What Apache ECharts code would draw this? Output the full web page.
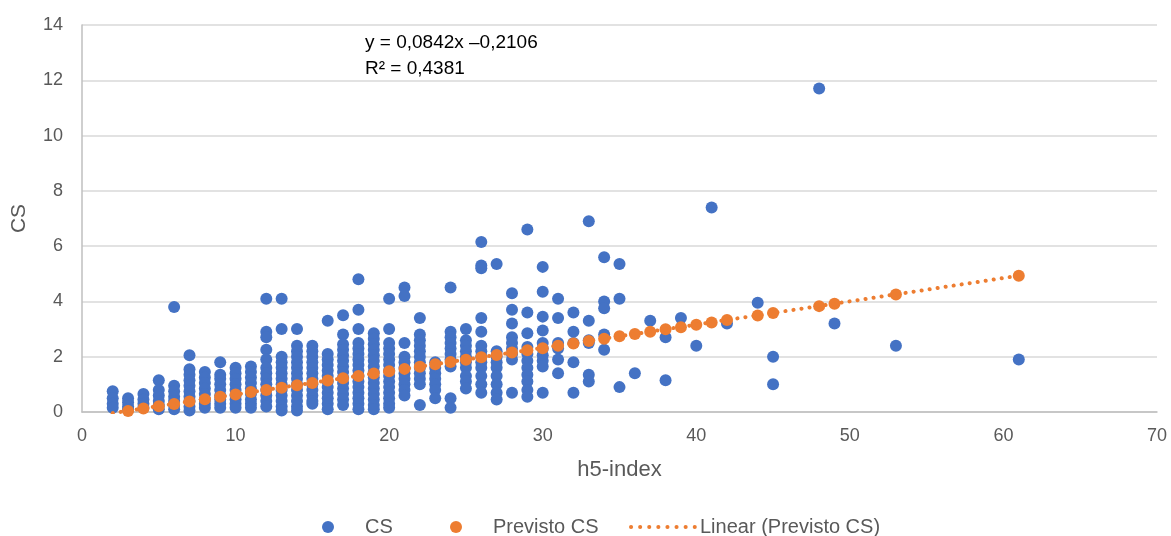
<!DOCTYPE html>
<html>
<head>
<meta charset="utf-8">
<script src="https://cdn.jsdelivr.net/npm/echarts@6/dist/echarts.min.js"></script>
<style>
  html, body { margin: 0; padding: 0; background: #fff; }
  #chart { width: 1171px; height: 536px; }
</style>
</head>
<body>
<div id="chart"></div>
<script>
// CS observado, agrupado por h5-index
var csColumns = [
    [2, [0.75, 0.5, 0.3, 0.15]],
    [3, [0.5, 0.35, 0.2, 0.1]],
    [4, [0.65, 0.45, 0.3, 0.15]],
    [5, [1.15, 0.8, 0.6, 0.4, 0.25, 0.1]],
    [6, [3.8, 0.95, 0.75, 0.55, 0.4, 0.25, 0.1]],
    [7, [2.05, 1.55, 1.35, 1.15, 0.95, 0.75, 0.55, 0.4, 0.2, 0.05]],
    [8, [1.45, 1.25, 1.05, 0.85, 0.65, 0.45, 0.3, 0.15]],
    [9, [1.8, 1.35, 1.2, 1.0, 0.8, 0.6, 0.45, 0.3, 0.15]],
    [10, [1.6, 1.4, 1.2, 1.0, 0.8, 0.6, 0.45, 0.3, 0.15]],
    [11, [1.65, 1.45, 1.25, 1.05, 0.85, 0.65, 0.45, 0.3, 0.15]],
    [12, [4.1, 2.9, 2.7, 2.25, 1.9, 1.6, 1.4, 1.2, 1.0, 0.8, 0.6, 0.4, 0.2]],
    [13, [4.1, 3.0, 2.0, 1.8, 1.6, 1.4, 1.2, 1.0, 0.8, 0.6, 0.4, 0.2, 0.05]],
    [14, [3.0, 2.4, 2.2, 2.0, 1.8, 1.6, 1.4, 1.2, 1.0, 0.8, 0.6, 0.4, 0.2, 0.05]],
    [15, [2.4, 2.2, 2.0, 1.8, 1.6, 1.4, 1.2, 1.0, 0.8, 0.6, 0.4, 0.3]],
    [16, [3.3, 2.1, 1.9, 1.7, 1.5, 1.3, 1.1, 0.9, 0.7, 0.5, 0.3, 0.1]],
    [17, [3.5, 2.8, 2.45, 2.25, 2.05, 1.85, 1.65, 1.45, 1.25, 1.05, 0.85, 0.65, 0.45, 0.25]],
    [18, [4.8, 3.7, 3.0, 2.5, 2.3, 2.1, 1.9, 1.7, 1.5, 1.3, 1.1, 0.9, 0.7, 0.5, 0.3, 0.1]],
    [19, [2.85, 2.65, 2.45, 2.25, 2.05, 1.85, 1.65, 1.45, 1.25, 1.05, 0.85, 0.65, 0.45, 0.25, 0.1]],
    [20, [4.1, 3.0, 2.5, 2.3, 2.1, 1.9, 1.7, 1.5, 1.3, 1.1, 0.9, 0.7, 0.5, 0.3, 0.15]],
    [21, [4.5, 4.2, 2.5, 2.0, 1.8, 1.6, 1.4, 1.2, 1.0, 0.8, 0.6]],
    [22, [3.4, 2.8, 2.6, 2.4, 2.2, 2.0, 1.8, 1.6, 1.4, 1.2, 1.0, 0.25]],
    [23, [1.8, 1.6, 1.4, 1.2, 1.0, 0.8, 0.5]],
    [24, [4.5, 2.9, 2.7, 2.5, 2.3, 2.1, 1.9, 1.65, 0.5, 0.15]],
    [25, [3.0, 2.6, 2.4, 2.2, 2.0, 1.8, 1.6, 1.3, 1.1, 0.85]],
    [26, [6.15, 5.3, 5.2, 3.4, 2.9, 2.4, 2.2, 2.0, 1.8, 1.6, 1.3, 1.0, 0.7]],
    [27, [5.35, 2.2, 2.0, 1.8, 1.6, 1.3, 1.0, 0.7, 0.45]],
    [28, [4.3, 3.7, 3.2, 2.7, 2.5, 2.3, 2.1, 1.9, 0.7]],
    [29, [6.6, 3.6, 2.85, 2.35, 2.1, 1.85, 1.6, 1.35, 1.1, 0.8, 0.55]],
    [30, [5.25, 4.35, 3.45, 2.95, 2.5, 2.3, 2.05, 1.85, 1.65, 0.7]],
    [31, [4.1, 3.4, 2.5, 2.3, 1.9, 1.4]],
    [32, [3.6, 2.9, 2.5, 1.8, 0.7]],
    [33, [6.9, 3.3, 2.6, 2.5, 1.35, 1.1]],
    [34, [5.6, 4.0, 3.75, 2.8, 2.25]],
    [35, [5.35, 4.1, 0.9]],
    [36, [1.4]],
    [37, [3.3]],
    [38, [2.7, 1.15]],
    [39, [3.4]],
    [40, [2.4]],
    [41, [7.4]],
    [42, [3.2]],
    [44, [3.95]],
    [45, [2.0, 1.0]],
    [48, [11.7]],
    [49, [3.2]],
    [53, [2.4]],
    [61, [1.9]]
];

// Previsto CS
var prevX = [3, 4, 5, 6, 7, 8, 9, 10, 11, 12, 13, 14, 15, 16, 17, 18, 19, 20, 21, 22,
    23, 24, 25, 26, 27, 28, 29, 30, 31, 32, 33, 34, 35, 36, 37, 38, 39, 40, 41, 42,
    44, 45, 48, 49, 53, 61];
var prevY = [0.04, 0.13, 0.21, 0.29, 0.38, 0.46, 0.55, 0.63, 0.72, 0.80, 0.88, 0.97, 1.05, 1.14, 1.22, 1.30, 1.39, 1.47, 1.56, 1.64,
    1.73, 1.81, 1.89, 1.98, 2.06, 2.15, 2.23, 2.31, 2.40, 2.48, 2.57, 2.65, 2.74, 2.82, 2.90, 2.99, 3.07, 3.16, 3.24, 3.33,
    3.49, 3.58, 3.83, 3.92, 4.25, 4.93];

// linha de tendência
var trendX = [2, 61];
var trendY = [-0.04, 4.93];

var xTicks = [0, 10, 20, 30, 40, 50, 60, 70];
var yTicks = [0, 2, 4, 6, 8, 10, 12, 14];

var csData = [];
csColumns.forEach(function (col) {
    col[1].forEach(function (v) { csData.push([col[0], v]); });
});
var prevData = prevX.map(function (x, i) { return [x, prevY[i]]; });
var trendData = trendX.map(function (x, i) { return [x, trendY[i]]; });

var blue = '#4472C4';
var orange = '#ED7D31';
var grey = '#595959';
var font = '"Liberation Sans", Arial, sans-serif';

// uma legenda por item, para posicionar como no Excel
function legendAt(left, item) {
    return {
        top: 512,
        left: left,
        itemWidth: 64,
        itemHeight: 12,
        textStyle: { color: grey, fontSize: 20, fontFamily: font },
        data: [item]
    };
}

var chart = echarts.init(document.getElementById('chart'));
var option = {
    backgroundColor: '#fff',
    animation: false,
    textStyle: { fontFamily: font },
    grid: { left: 82, right: 14, top: 25, bottom: 124, containLabel: false },
    xAxis: {
        type: 'value',
        min: xTicks[0], max: xTicks[xTicks.length - 1], interval: 10,
        name: 'h5-index', nameLocation: 'middle', nameGap: 47,
        nameTextStyle: { color: grey, fontSize: 22, fontFamily: font },
        axisLine: { show: true, lineStyle: { color: '#bfbfbf', width: 1.5 } },
        axisTick: { show: false },
        axisLabel: { color: grey, fontSize: 18, margin: 15, fontFamily: font },
        splitLine: { show: false }
    },
    yAxis: {
        type: 'value',
        min: yTicks[0], max: yTicks[yTicks.length - 1], interval: 2,
        name: 'CS', nameLocation: 'middle', nameGap: 52,
        nameTextStyle: { color: grey, fontSize: 21, fontFamily: font },
        axisLine: { show: true, lineStyle: { color: '#bfbfbf', width: 1.5 } },
        axisTick: { show: false },
        axisLabel: { color: grey, fontSize: 18, margin: 19, fontFamily: font },
        splitLine: { lineStyle: { color: '#d9d9d9', width: 1.5 } }
    },
    legend: [
        legendAt(317, { name: 'CS', icon: 'circle' }),
        legendAt(445, { name: 'Previsto CS', icon: 'circle' }),
        legendAt(624, {
            name: 'Linear (Previsto CS)',
            itemStyle: { color: 'rgba(0,0,0,0)', opacity: 0 },
            lineStyle: { color: orange, width: 4, type: [0.1, 9], cap: 'round' }
        })
    ],
    graphic: [{
        type: 'text',
        left: 365,
        top: 30,
        style: {
            text: 'y = 0,0842x \u20130,2106\nR\u00b2 = 0,4381',
            font: '19px ' + font,
            fill: '#000',
            lineHeight: 26
        }
    }],
    series: [
        {
            name: 'CS',
            type: 'scatter',
            symbolSize: 12,
            itemStyle: { color: blue, opacity: 1 },
            data: csData,
            z: 2
        },
        {
            name: 'Previsto CS',
            type: 'scatter',
            symbolSize: 12,
            itemStyle: { color: orange, opacity: 1 },
            data: prevData,
            z: 3
        },
        {
            name: 'Linear (Previsto CS)',
            type: 'line',
            symbol: 'none',
            showSymbol: false,
            clip: true,
            itemStyle: { color: orange },
            lineStyle: { color: orange, width: 4, type: [0.1, 8], cap: 'round' },
            data: trendData,
            z: 4
        }
    ]
};
chart.setOption(option);
</script>
</body>
</html>
